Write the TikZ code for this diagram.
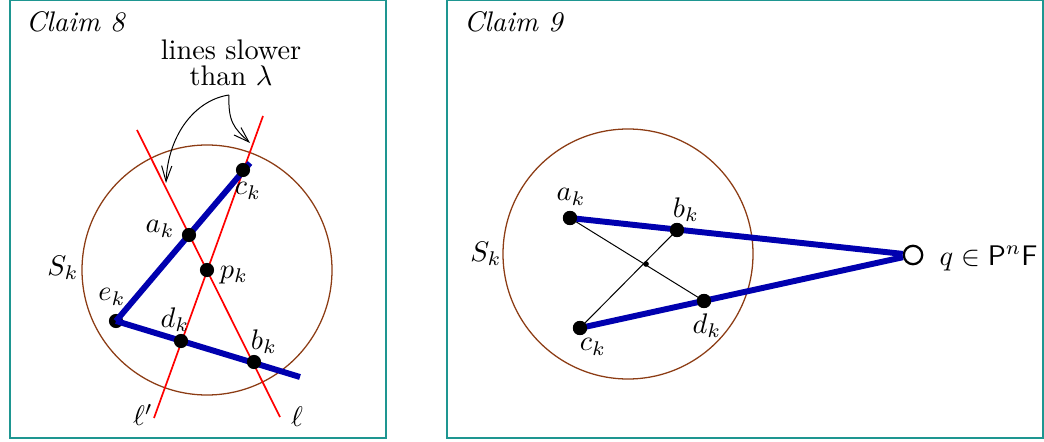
\documentclass[tikz,border=0pt]{standalone}
\usetikzlibrary{arrows.meta}
\definecolor{spherebrown}{RGB}{140,60,20}
\definecolor{frameteal}{RGB}{30,150,145}
\definecolor{lineblue}{RGB}{0,0,175}
\begin{document}
\begin{tikzpicture}[x=0.353pt,y=-0.353pt,
  frame/.style={draw=frameteal,line width=0.5pt},
  sphere/.style={draw=spherebrown,line width=0.45pt},
  redline/.style={draw=red,line width=0.6pt},
  blueline/.style={draw=lineblue,line width=2.1pt},
  thinline/.style={draw=black,line width=0.35pt},
  dot/.style={circle,fill=black,inner sep=0pt,minimum size=5pt},
  smalldot/.style={circle,fill=black,inner sep=0pt,minimum size=2pt},
  opendot/.style={circle,draw=black,fill=white,line width=0.8pt,inner sep=0pt,minimum size=6.5pt},
  lbl/.style={inner sep=0pt},
  curvearrow/.style={draw=black,line width=0.35pt,-{Straight Barb[length=5.5pt,width=3.6pt]}}
]
\useasboundingbox (0,0) rectangle (1044,442);
% frames
\draw[frame] (10,0) rectangle (386,438);
\draw[frame] (447,0) rectangle (1043,438);
\node[lbl] (t8) at (76,22) {\textit{Claim 8}};
\node[lbl] (t9) at (514,22) {\textit{Claim 9}};

% ---------- Claim 8 ----------
\draw[sphere] (207,270) circle[radius=125];
\coordinate (l1) at (137,130);
\coordinate (l2) at (280,417);
\coordinate (m1) at (263,116);
\coordinate (m2) at (154,418);
\draw[redline] (l1) -- (l2);
\draw[redline] (m1) -- (m2);
\coordinate (bt) at (250,163);
\coordinate (br) at (300,377);
\node[dot] (e) at (116,321) {};
\draw[blueline] (e.center) -- (bt);
\draw[blueline] (e.center) -- (br);
\node[dot] (c) at (243,170) {};
\node[dot] (a) at (189,235) {};
\node[dot] (p) at (207,270) {};
\node[dot] (d) at (181,341) {};
\node[dot] (b) at (254,362) {};
\node[lbl] (cl) at (248,191) {$c_k$};
\node[lbl] (al) at (160,229) {$a_k$};
\node[lbl] (pl) at (234,275) {$p_k$};
\node[lbl] (el) at (112,297) {$e_k$};
\node[lbl] (dl) at (175,320) {$d_k$};
\node[lbl] (bl) at (264,342) {$b_k$};
\node[lbl] (sl) at (63,268) {$S_k$};
\node[lbl] (lpl) at (143,415) {$\ell'$};
\node[lbl] (ll) at (297,417) {$\ell$};
\node[lbl,align=center] (slow) at (231,63) {lines slower\\[-3pt] than $\lambda$};
\coordinate (as) at (229,95);
\coordinate (ae1) at (166,183);
\coordinate (ae2) at (250,143);
\draw[curvearrow] (as) .. controls (195,100) and (168,135) .. (ae1);
\draw[curvearrow] (as) .. controls (228,122) and (234,128) .. (ae2);

% ---------- Claim 9 ----------
\draw[sphere] (628,254) circle[radius=125];
\node[dot] (A) at (570,218) {};
\node[dot] (B) at (677,230) {};
\node[dot] (C) at (580,328) {};
\node[dot] (D) at (704,301) {};
\node[smalldot] (X) at (646,264) {};
\node[opendot] (Q) at (913,255) {};
\draw[thinline] (A.center) -- (D.center);
\draw[thinline] (C.center) -- (B.center);
\draw[blueline] (A.center) -- (Q);
\draw[blueline] (C.center) -- (Q);
\node[dot] at (A) {};
\node[dot] at (B) {};
\node[dot] at (C) {};
\node[dot] at (D) {};
\node[lbl] (Al) at (571,197) {$a_k$};
\node[lbl] (Bl) at (686,210) {$b_k$};
\node[lbl] (Cl) at (593,347) {$c_k$};
\node[lbl] (Dl) at (707,326) {$d_k$};
\node[lbl] (Sl) at (486,254) {$S_k$};
\node[lbl,anchor=west] (Ql) at (939,258) {$q\in\mathsf{P}^n\mathsf{F}$};
\end{tikzpicture}
\end{document}
